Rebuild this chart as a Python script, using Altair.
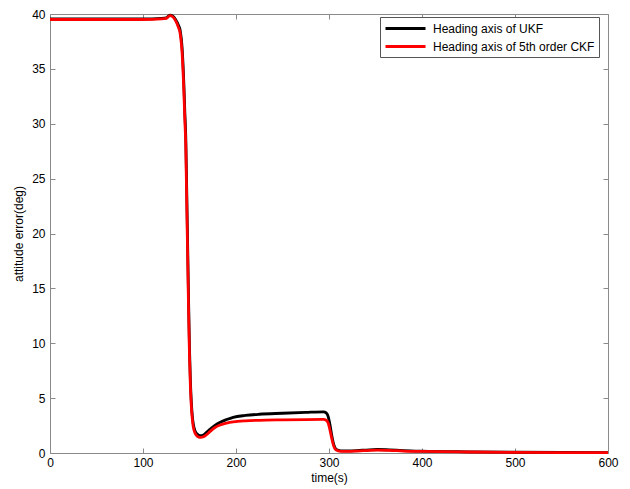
import altair as alt
import pandas as pd

# ---- data ----
time_s = [0, 50, 100, 120, 125, 129, 132, 135, 138, 140, 142, 144, 145, 146, 147, 148,
          149, 150, 151, 152, 153, 154, 156, 158, 160, 162, 165, 168, 172, 177, 183, 190,
          197, 210, 225, 250, 275, 294, 297, 299, 301, 303, 305, 307, 310, 315, 320, 330,
          340, 352, 365, 380, 400, 450, 500, 550, 600]

ukf = [39.55, 39.55, 39.55, 39.6, 39.65, 39.9, 39.8, 39.5, 39.0, 38.5, 37.0, 33.5, 31.0,
       28.8, 24.0, 19.0, 14.0, 9.5, 6.5, 4.6, 3.4, 2.7, 2.0, 1.75, 1.62, 1.58, 1.65, 1.85,
       2.15, 2.5, 2.8, 3.05, 3.25, 3.42, 3.53, 3.62, 3.7, 3.75, 3.65, 3.35, 2.6, 1.6, 0.8,
       0.4, 0.25, 0.2, 0.2, 0.22, 0.27, 0.32, 0.28, 0.22, 0.17, 0.11, 0.07, 0.05, 0.04]

ckf = [39.5, 39.5, 39.5, 39.55, 39.6, 39.85, 39.75, 39.4, 38.8, 38.2, 36.5, 32.8, 30.3,
       28.0, 23.0, 18.0, 13.0, 8.8, 6.0, 4.2, 3.1, 2.4, 1.8, 1.55, 1.45, 1.42, 1.48, 1.65,
       1.95, 2.3, 2.55, 2.72, 2.83, 2.93, 2.98, 3.02, 3.05, 3.06, 2.98, 2.75, 2.1, 1.3, 0.65,
       0.32, 0.2, 0.15, 0.15, 0.18, 0.22, 0.27, 0.24, 0.18, 0.14, 0.09, 0.06, 0.04, 0.03]

series_names = ["Heading axis of UKF", "Heading axis of 5th order CKF"]
series_colors = ["#000000", "#ff0000"]

x_ticks = [0, 100, 200, 300, 400, 500, 600]
y_ticks = [0, 5, 10, 15, 20, 25, 30, 35, 40]

df = pd.concat([
    pd.DataFrame({"t": time_s, "v": ukf, "s": series_names[0]}),
    pd.DataFrame({"t": time_s, "v": ckf, "s": series_names[1]}),
], ignore_index=True)

FONT = "Liberation Sans"
GRAY = "#8a8a8a"

xscale = alt.Scale(domain=[0, 600], nice=False, zero=False)
yscale = alt.Scale(domain=[0, 40], nice=False)

color = alt.Color(
    "s:N",
    scale=alt.Scale(domain=series_names, range=series_colors),
    legend=alt.Legend(
        orient="none", legendX=330, legendY=3, title=None,
        symbolType="M-1,0H5.67", symbolSize=144, symbolStrokeWidth=3,
        labelFont=FONT, labelFontSize=12, labelColor="#000",
        labelOffset=34, labelLimit=400,
        strokeColor="#555555", fillColor="white", padding=4, rowPadding=4,
    ),
)

def tick_axis(orient, values):
    return alt.Axis(orient=orient, values=values, labels=False, domain=False,
                    ticks=True, tickSize=5, tickColor=GRAY, offset=-5, title=None,
                    grid=False)

base = alt.Chart(df)

black = base.transform_filter(alt.datum.s == series_names[0]).mark_line(
    strokeWidth=2.8, interpolate="monotone"
).encode(
    x=alt.X("t:Q", scale=xscale, axis=alt.Axis(
        orient="bottom", values=x_ticks, title="time(s)", ticks=False, domain=False,
        grid=False, labelFont=FONT, labelFontSize=12, labelColor="#000",
        labelPadding=4, labelFlush=False, titleFont=FONT, titleFontSize=12,
        titleFontWeight="normal", titleColor="#000", titlePadding=4)),
    y=alt.Y("v:Q", scale=yscale, axis=alt.Axis(
        orient="left", values=y_ticks, title="attitude error(deg)", ticks=False,
        domain=False, grid=False, labelFont=FONT, labelFontSize=12, labelColor="#000",
        labelPadding=5, labelFlush=False, titleFont=FONT, titleFontSize=12,
        titleFontWeight="normal", titleColor="#000", titlePadding=6)),
    color=color,
)

red = base.transform_filter(alt.datum.s == series_names[1]).mark_line(
    strokeWidth=2.8, interpolate="monotone"
).encode(
    x=alt.X("t:Q", scale=xscale, axis=tick_axis("top", x_ticks)),
    y=alt.Y("v:Q", scale=yscale, axis=tick_axis("right", y_ticks)),
    color=color,
)

ghost = base.transform_filter(alt.datum.s == series_names[0]).mark_line(
    opacity=0
).encode(
    x=alt.X("t:Q", scale=xscale, axis=tick_axis("bottom", x_ticks)),
    y=alt.Y("v:Q", scale=yscale, axis=tick_axis("left", y_ticks)),
)

chart = alt.layer(black, red, ghost).resolve_axis(
    x="independent", y="independent"
).properties(
    width=558, height=439,
    autosize=alt.AutoSizeParams(type="none"),
    padding={"left": 42, "top": 6, "right": 14, "bottom": 40},
    background="white",
).configure_view(stroke=GRAY, strokeWidth=1).configure_legend(
    strokeColor="#555555", fillColor="white", padding=4
)

chart.save("out.html", embed_options={"renderer": "svg", "actions": False})
